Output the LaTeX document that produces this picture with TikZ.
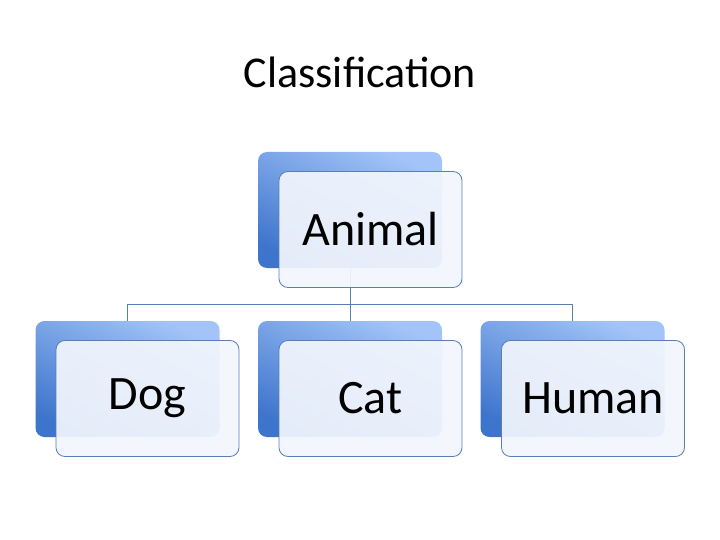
\documentclass[tikz,border=0pt]{standalone}
\usepackage{fontspec}
\setmainfont{Carlito}
\definecolor{boxlight}{HTML}{A2C4F8}
\definecolor{boxdark}{HTML}{3E75CC}
\definecolor{frontfill}{HTML}{F2F6FD}
\definecolor{edgeblue}{HTML}{5A7DB2}
\begin{document}
\begin{tikzpicture}[x=1pt,y=-1pt,
  backbox/.style={minimum width=184pt,minimum height=116pt,inner sep=0pt,
    rounded corners=9pt,top color=boxlight,bottom color=boxdark,shading angle=-25},
  frontbox/.style={minimum width=183pt,minimum height=116pt,inner sep=0pt,
    rounded corners=9pt,draw=edgeblue,line width=0.8pt,fill=frontfill,fill opacity=0.93,
    text opacity=1,font=\fontsize{48}{56}\selectfont},
  conn/.style={draw=edgeblue,line width=0.8pt}]
\useasboundingbox (0,0) rectangle (720,540);
\node[font=\fontsize{44}{52}\selectfont] (title) at (360,72) {Classification};
% back boxes
\node[backbox] (animalB) at (350,210) {};
\node[backbox] (dogB) at (127.5,379) {};
\node[backbox] (catB) at (350,379) {};
\node[backbox] (humanB) at (572.5,379) {};
% connectors
\coordinate (bus) at (350,304);
\draw[conn] (animalB.south) -- (bus);
\draw[conn] (bus) -| (dogB.north);
\draw[conn] (bus) -- (catB.north);
\draw[conn] (bus) -| (humanB.north);
% front boxes
\node[frontbox] (animal) at (370.5,229.5) {Animal};
\node[frontbox] (dog) at (147.5,398.5) {Dog};
\node[frontbox] (cat) at (370.5,398.5) {Cat};
\node[frontbox] (human) at (593,398.5) {Human};
\end{tikzpicture}
\end{document}
